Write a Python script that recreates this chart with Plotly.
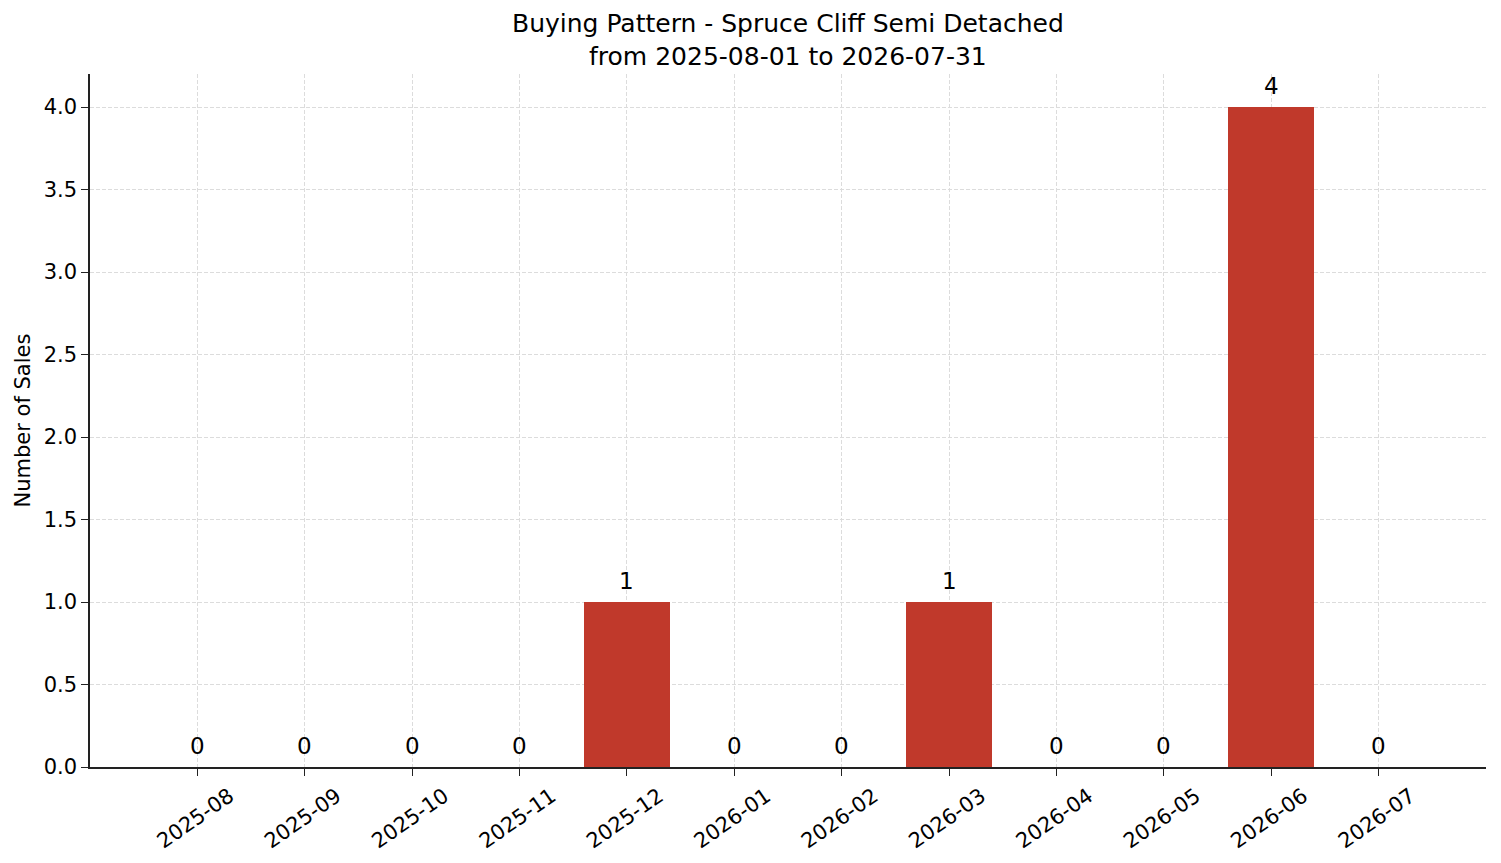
import plotly.graph_objects as go

months = ["2025-08", "2025-09", "2025-10", "2025-11", "2025-12", "2026-01",
          "2026-02", "2026-03", "2026-04", "2026-05", "2026-06", "2026-07"]
sales = [0, 0, 0, 0, 1, 0, 0, 1, 0, 0, 4, 0]

x_pos = list(range(len(months)))
font = "DejaVu Sans, Arial, sans-serif"

# page has an 8px body margin, so the figure is a bit smaller than the window
W, H = 1493, 855
ML, MR, MT, MB = 82, 15, 66, 96

fig = go.Figure()
fig.add_trace(go.Bar(
    x=x_pos,
    y=sales,
    width=0.8,
    marker_color="#c0392b",
    marker_line_width=0,
))

# value labels above each bar
for xi, v in zip(x_pos, sales):
    fig.add_annotation(x=xi, y=v, text=str(v), showarrow=False,
                       yanchor="bottom", yshift=6,
                       font=dict(size=23, color="black", family=font))

# y axis title
fig.add_annotation(text="Number of Sales", xref="paper", yref="paper",
                   x=-68 / (W - ML - MR), y=0.5, textangle=-90, showarrow=False,
                   xanchor="center", yanchor="middle",
                   font=dict(size=21, color="black", family=font))

# two-line title as an annotation so the line spacing can be set
fig.add_annotation(text="Buying Pattern - Spruce Cliff Semi Detached<br>from 2025-08-01 to 2026-07-31",
                   xref="paper", yref="paper", x=(780 - ML) / (W - ML - MR),
                   y=1 + (MT - 31.5) / (H - MT - MB), xanchor="center", yanchor="middle",
                   showarrow=False, font=dict(size=25, color="black", family=font))

fig.update_layout(
    width=W, height=H,
    paper_bgcolor="white", plot_bgcolor="white",
    margin=dict(l=ML, r=MR, t=MT, b=MB),
    font=dict(family=font, size=21, color="black"),
    showlegend=False,
    bargap=0,
)
fig.update_xaxes(
    range=[-1, 12], automargin=False,
    tickmode="array", tickvals=x_pos, ticktext=months, tickangle=-35,
    ticklabelshift=32,
    showline=True, linecolor="#222", linewidth=1.5,
    ticks="outside", ticklen=7, tickcolor="#222",
    showgrid=True, gridcolor="#dcdcdc", griddash="4px,2px", gridwidth=0.8,
    tickfont=dict(size=21), zeroline=False,
)
fig.update_yaxes(
    range=[0, 4.2], automargin=False,
    tickmode="array", tickvals=[0, 0.5, 1, 1.5, 2, 2.5, 3, 3.5, 4],
    ticktext=["0.0", "0.5", "1.0", "1.5", "2.0", "2.5", "3.0", "3.5", "4.0"],
    showline=True, linecolor="#222", linewidth=1.5,
    ticks="outside", ticklen=7, tickcolor="#222",
    showgrid=True, gridcolor="#dcdcdc", griddash="4px,2px", gridwidth=0.8,
    tickfont=dict(size=21), zeroline=False,
)

fig.write_html("out.html")
